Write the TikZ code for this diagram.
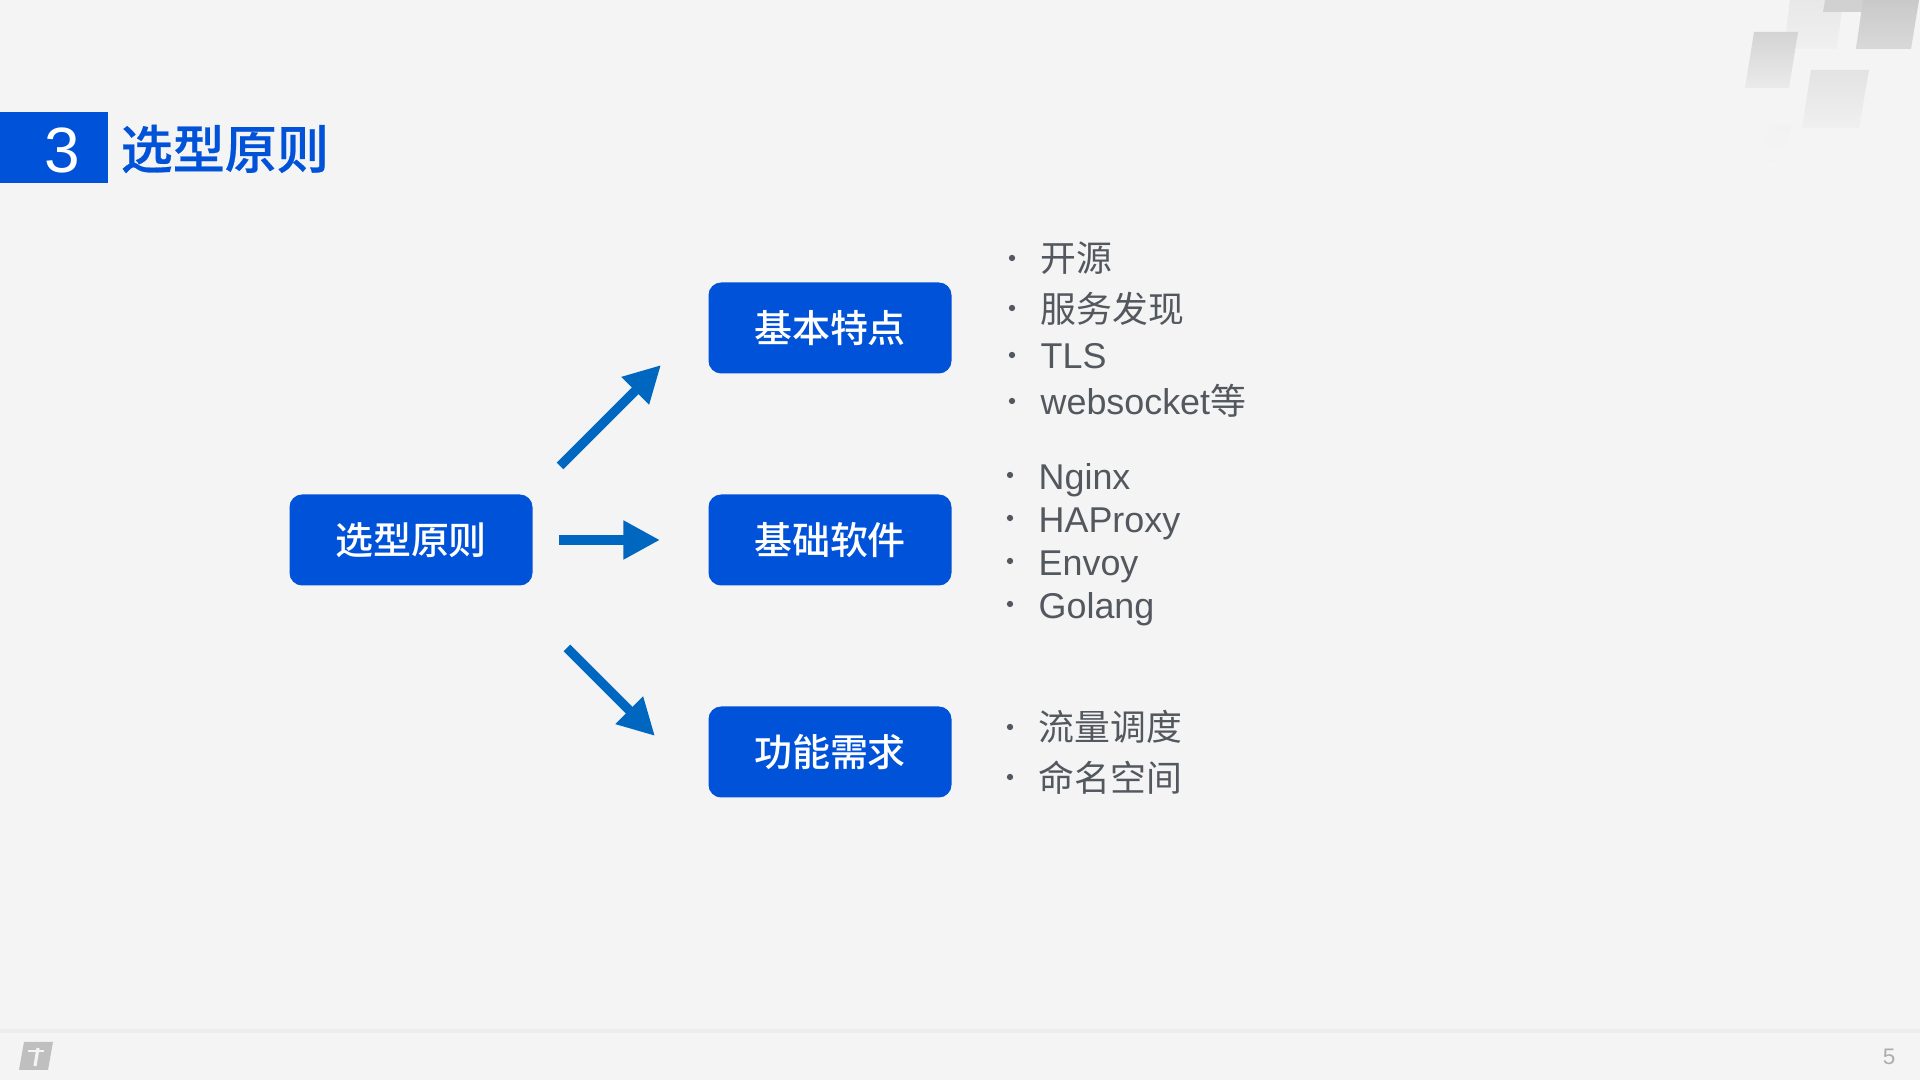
\documentclass[tikz,border=0pt]{standalone}
\usepackage{fontspec}
\setmainfont{Liberation Sans}
\newfontfamily\cjk{Noto Sans CJK SC}
\newfontfamily\cjkmed{Noto Sans CJK SC Medium}
\newfontfamily\cjkhead[FakeBold=0.5]{Noto Sans CJK SC Medium}
\usetikzlibrary{arrows.meta}
\definecolor{brandblue}{HTML}{0052D9}
\definecolor{arrowblue}{HTML}{0067C0}
\definecolor{listgray}{HTML}{53585F}
\definecolor{pagebg}{HTML}{F4F4F4}
\tikzset{
  keybox/.style={fill=brandblue,rounded corners=3.6pt,minimum width=243\pxu,minimum height=91\pxu,inner sep=0pt,text=white,font=\cjkmed\fontsize{10.8pt}{13pt}\selectfont},
  itemtext/.style={anchor=base west,inner sep=0pt,text=listgray,font=\fontsize{10.2pt}{12pt}\selectfont},
  itemdot/.style={circle,fill=listgray,inner sep=0pt,minimum size=1.8pt},
  flowarrow/.style={arrowblue,line width=2.7pt,-{Triangle[length=10.4pt,width=10.4pt]}},
}
\newdimen\pxu
\pxu=0.01cm
\begin{document}
\begin{tikzpicture}[x=0.01cm,y=-0.01cm]
  \useasboundingbox (0,0) rectangle (1920,1080);
  \fill[pagebg] (0,0) rectangle (1920,1080);
  % corner tiles
  \shade[top color=black!9,bottom color=black!6] (1790,0)--(1843,0)--(1837,49)--(1784,49)--cycle;
  \fill[black!18] (1825,0)--(1864,0)--(1862,12)--(1823,12)--cycle;
  \shade[top color=black!21,bottom color=black!15] (1863,0)--(1919,0)--(1911,49)--(1856,49)--cycle;
  \shade[top color=black!17,bottom color=black!8] (1754,32)--(1798,32)--(1789,88)--(1745,88)--cycle;
  \shade[top color=black!11,bottom color=black!6] (1811,70)--(1869,70)--(1859,128)--(1802,128)--cycle;
  \shade[top color=black!5,bottom color=black!4] (1770,125)--(1791,125)--(1783,167)--(1762,167)--cycle;
  % heading
  \fill[brandblue] (0,112) rectangle (108,183);
  \node[text=white,font=\fontsize{18.2pt}{20pt}\selectfont] (headnum) at (62,150) {3};
  \node[anchor=west,inner sep=0pt,text=brandblue,font=\cjkhead\fontsize{14.8pt}{17pt}\selectfont] (headtext) at (120,149) {选型原则};
  % boxes
  \node[keybox] (root) at (411,540) {选型原则};
  \node[keybox] (basic) at (830,328) {基本特点};
  \node[keybox] (base) at (830,540) {基础软件};
  \node[keybox] (func) at (830,752) {功能需求};
  % arrows
  \coordinate (upa) at (560,466); \coordinate (upb) at (661,365);
  \coordinate (mida) at (559,540); \coordinate (midb) at (660,540);
  \coordinate (lowa) at (567,648); \coordinate (lowb) at (655,736);
  \draw[flowarrow] (upa)--(upb);
  \draw[flowarrow] (mida)--(midb);
  \draw[flowarrow] (lowa)--(lowb);
  % lists
  \foreach \yy/\txt in {272/{\cjk 开源},323/{\cjk 服务发现},369/TLS,415/websocket{\cjk 等}}
    \node[itemtext] at (1040,\yy) {\txt};
  \foreach \yy in {258,308,355,401}
    \node[itemdot] at (1012,\yy) {};
  \foreach \yy/\txt in {490/Nginx,533/HAProxy,576/Envoy,619/Golang,741/{\cjk 流量调度},792/{\cjk 命名空间}}
    \node[itemtext] at (1038,\yy) {\txt};
  \foreach \yy in {475,518,561,604,727,777}
    \node[itemdot] at (1010,\yy) {};
  % footer
  \draw[black!7,line width=.9pt] (0,1031)--(1920,1031);
  \fill[black!25] (24,1042)--(53,1042)--(48,1070)--(19,1070)--cycle;
  \draw[pagebg,line width=.8pt] (28,1051)--(44,1051);
  \draw[pagebg,line width=.9pt] (38,1048)--(35,1066);
  \node[text=black!32,font=\fontsize{6.4pt}{8pt}\selectfont] (pagenum) at (1889,1057) {5};
\end{tikzpicture}
\end{document}
